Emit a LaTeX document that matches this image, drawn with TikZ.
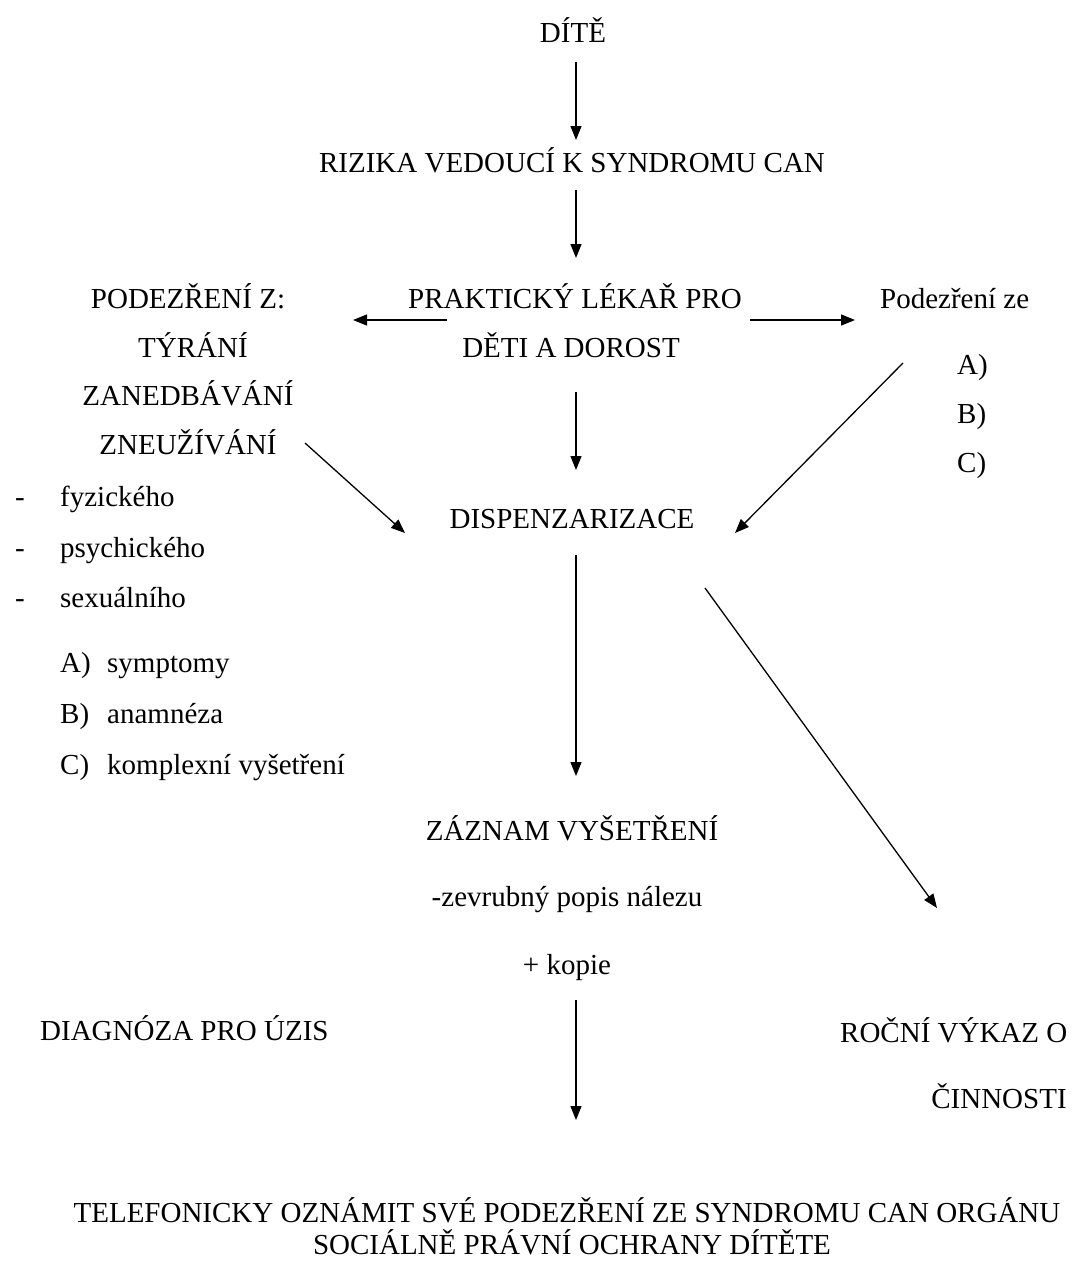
\documentclass[tikz,border=0pt]{standalone}
\usepackage{fontspec}
\setmainfont{Liberation Serif}
\usetikzlibrary{arrows.meta}
\begin{document}
\begin{tikzpicture}[x=1pt,y=-1pt,
  txt/.style={inner sep=0pt,anchor=base,font=\fontsize{29}{33}\selectfont},
  txtw/.style={txt,anchor=base west},
  arr/.style={line width=1.3pt,-{Triangle[length=14pt,width=11pt]}}]
\useasboundingbox (0,0) rectangle (1074,1261);
% texts
\node[txt] (dite) at (573,42) {DÍTĚ};
\node[txt] (rizika) at (572,172) {RIZIKA VEDOUCÍ K SYNDROMU CAN};
\node[txt] (prak1) at (575,308) {PRAKTICKÝ LÉKAŘ PRO};
\node[txt] (prak2) at (571,357) {DĚTI A DOROST};
\node[txt] (pod1) at (188,308) {PODEZŘENÍ Z:};
\node[txt] (pod2) at (193,357) {TÝRÁNÍ};
\node[txt] (pod3) at (188,405) {ZANEDBÁVÁNÍ};
\node[txt] (pod4) at (188,454) {ZNEUŽÍVÁNÍ};
\node[txtw] (podze) at (880,308) {Podezření ze};
\node[txtw] (pa) at (957,374) {A)};
\node[txtw] (pb) at (957,423) {B)};
\node[txtw] (pc) at (957,472) {C)};
\node[txt] (disp) at (572,528) {DISPENZARIZACE};
\node[txtw] (d1) at (15,506) {-};
\node[txtw] (l1) at (60,506) {fyzického};
\node[txtw] (d2) at (15,557) {-};
\node[txtw] (l2) at (60,557) {psychického};
\node[txtw] (d3) at (15,607) {-};
\node[txtw] (l3) at (60,607) {sexuálního};
\node[txtw] (ka) at (60,672) {A)};
\node[txtw] (ta) at (107,672) {symptomy};
\node[txtw] (kb) at (60,723) {B)};
\node[txtw] (tb) at (107,723) {anamnéza};
\node[txtw] (kc) at (60,774) {C)};
\node[txtw] (tc) at (107,774) {komplexní vyšetření};
\node[txt] (zaz) at (572,840) {ZÁZNAM VYŠETŘENÍ};
\node[txt] (zev) at (567,906) {-zevrubný popis nálezu};
\node[txt] (kop) at (567,974) {+ kopie};
\node[txtw] (diag) at (40,1040) {DIAGNÓZA PRO ÚZIS};
\node[txtw] (roc1) at (840,1042) {ROČNÍ VÝKAZ O};
\node[txt] (roc2) at (999,1108) {ČINNOSTI};
\node[txt] (tel1) at (567,1222) {TELEFONICKY OZNÁMIT SVÉ PODEZŘENÍ ZE SYNDROMU CAN ORGÁNU};
\node[txt,text depth=0pt] (tel2) at (572,1254) {SOCIÁLNĚ PRÁVNÍ OCHRANY DÍTĚTE};
% arrow end points
\coordinate (a1s) at (576,62);   \coordinate (a1e) at (576,140);
\coordinate (a2s) at (576,190);  \coordinate (a2e) at (576,258);
\coordinate (a3s) at (447,320);  \coordinate (a3e) at (353,320);
\coordinate (a4s) at (750,320);  \coordinate (a4e) at (855,320);
\coordinate (a5s) at (576,392);  \coordinate (a5e) at (576,470);
\coordinate (a6s) at (305,443);  \coordinate (a6e) at (405,533);
\coordinate (a7s) at (903,363);  \coordinate (a7e) at (735,533);
\coordinate (a8s) at (576,555);  \coordinate (a8e) at (576,776);
\coordinate (a9s) at (705,588);  \coordinate (a9e) at (937,908);
\coordinate (a10s) at (576,1000); \coordinate (a10e) at (576,1120);
\foreach \i in {1,...,10} \draw[arr] (a\i s) -- (a\i e);
\end{tikzpicture}
\end{document}
